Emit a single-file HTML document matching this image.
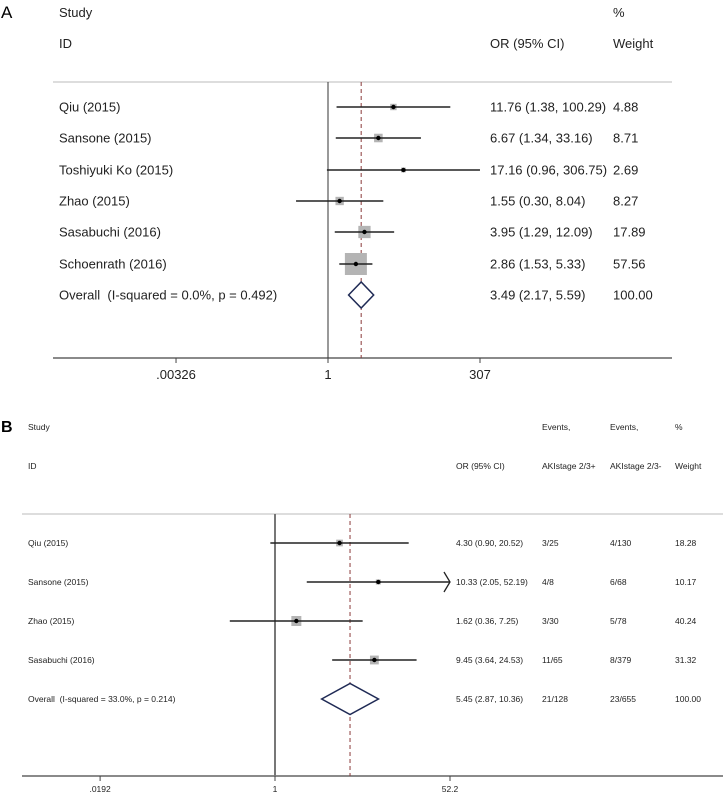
<!DOCTYPE html>
<html><head><meta charset="utf-8"><style>
html,body{margin:0;padding:0;background:#fff}
svg{display:block;font-family:"Liberation Sans",Arial,sans-serif}
svg text{white-space:pre}
</style></head><body>
<svg id="chart" width="723" height="795" viewBox="0 0 723 795" xmlns="http://www.w3.org/2000/svg">
<g id="panelA">
<text x="1" y="18" font-size="17">A</text>
<text x="59" y="17" font-size="13" fill="#222">Study</text>
<text x="59" y="48" font-size="13" fill="#222">ID</text>
<text x="490" y="48" font-size="13" fill="#222">OR (95% CI)</text>
<text x="613" y="17" font-size="13" fill="#222">%</text>
<text x="613" y="48" font-size="13" fill="#222">Weight</text>
<line x1="53" y1="82" x2="672" y2="82" stroke="#bbb"/>
<line x1="53" y1="358" x2="672" y2="358" stroke="#444" stroke-width="1.2"/>
</g>
<g id="panelB">
<text x="1" y="432" font-size="16" font-weight="bold">B</text>
<text x="28" y="430" font-size="8.5" fill="#222">Study</text>
<text x="28" y="469" font-size="8.5" fill="#222">ID</text>
<text x="456" y="469" font-size="8.5" fill="#222">OR (95% CI)</text>
<text x="542" y="430" font-size="8.5" fill="#222">Events,</text>
<text x="542" y="469" font-size="8.5" fill="#222">AKIstage 2/3+</text>
<text x="610" y="430" font-size="8.5" fill="#222">Events,</text>
<text x="610" y="469" font-size="8.5" fill="#222">AKIstage 2/3-</text>
<text x="675" y="430" font-size="8.5" fill="#222">%</text>
<text x="675" y="469" font-size="8.5" fill="#222">Weight</text>
<line x1="22" y1="514" x2="723" y2="514" stroke="#bbb"/>
<line x1="22" y1="776" x2="723" y2="776" stroke="#444" stroke-width="1.2"/>
</g>
</svg>
<script>
const aStudies=["Qiu (2015)","Sansone (2015)","Toshiyuki Ko (2015)","Zhao (2015)","Sasabuchi (2016)","Schoenrath (2016)"];
const aOR=[11.76,6.67,17.16,1.55,3.95,2.86];
const aLo=[1.38,1.34,0.96,0.30,1.29,1.53];
const aHi=[100.29,33.16,306.75,8.04,12.09,5.33];
const aWeight=["4.88","8.71","2.69","8.27","17.89","57.56"];
const aOverall=[3.49,2.17,5.59];
const aOverallLabel="Overall  (I-squared = 0.0%, p = 0.492)";
const aTicks=[0.00326,1,307];
const aTickLabels=[".00326","1","307"];

const bStudies=["Qiu (2015)","Sansone (2015)","Zhao (2015)","Sasabuchi (2016)"];
const bOR=[4.30,10.33,1.62,9.45];
const bLo=[0.90,2.05,0.36,3.64];
const bHi=[20.52,52.19,7.25,24.53];
const bEv1=["3/25","4/8","3/30","11/65"];
const bEv2=["4/130","6/68","5/78","8/379"];
const bWeight=["18.28","10.17","40.24","31.32"];
const bOverall=[5.45,2.87,10.36];
const bOverallEv=["21/128","23/655"];
const bOverallLabel="Overall  (I-squared = 33.0%, p = 0.214)";
const bTicks=[0.0192,1,52.2];
const bTickLabels=[".0192","1","52.2"];

const NS="http://www.w3.org/2000/svg";
function mk(parent,tag,attrs,txt){const e=document.createElementNS(NS,tag);for(const k in attrs)e.setAttribute(k,attrs[k]);if(txt!==undefined)e.textContent=txt;parent.appendChild(e);return e;}
function fmt(v){return v.toFixed(2);}

function drawPanel(g,cfg){
  const sx=v=>cfg.x0+Math.log10(v)*cfg.pxDec;
  const fs=cfg.fs;
  let e=mk(g,'line',{x1:sx(1),y1:cfg.top,x2:sx(1),y2:cfg.axisY,stroke:cfg.nullColor,'stroke-width':cfg.nullW});
  
  
  e=mk(g,'line',{x1:sx(cfg.overall[0]),y1:cfg.top,x2:sx(cfg.overall[0]),y2:cfg.axisY,stroke:'#8b3a3a','stroke-width':1,'stroke-dasharray':'4,3'});
  
  
  const wmax=Math.max(...cfg.weight.map(Number));
  cfg.studies.forEach((s,i)=>{
    const y=cfg.rows[i];
    const row=mk(g,'g',{});
    
    
    let t=mk(row,'text',{x:cfg.labelX,y:y+fs*0.36,'font-size':fs,fill:'#222'},s);
    
    
    const side=cfg.maxBox*Math.sqrt(Number(cfg.weight[i])/wmax);
    let b=mk(row,'rect',{x:sx(cfg.or[i])-side/2,y:y-side/2,width:side,height:side,fill:'#b4b4b4'});
    
    
    const hiClip=Math.min(cfg.hi[i],cfg.clipHi);
    let l=mk(row,'line',{x1:sx(cfg.lo[i]),y1:y,x2:sx(hiClip),y2:y,stroke:'#222','stroke-width':1.5});
    
    
    if(cfg.hi[i]>=cfg.clipHi){
      const ax=sx(hiClip);
      let a=mk(row,'polyline',{points:`${ax-6},${y-10} ${ax},${y} ${ax-6},${y+10}`,fill:'none',stroke:'#222','stroke-width':1.3});
      
      
    }
    let d=mk(row,'circle',{cx:sx(cfg.or[i]),cy:y,r:2.2,fill:'#000'});
    
    
    t=mk(row,'text',{x:cfg.orX,y:y+fs*0.36,'font-size':fs,fill:'#222'},`${fmt(cfg.or[i])} (${fmt(cfg.lo[i])}, ${fmt(cfg.hi[i])})`);
    
    
    if(cfg.ev1){
      t=mk(row,'text',{x:cfg.ev1X,y:y+fs*0.36,'font-size':fs,fill:'#222'},cfg.ev1[i]);
      
      
      t=mk(row,'text',{x:cfg.ev2X,y:y+fs*0.36,'font-size':fs,fill:'#222'},cfg.ev2[i]);
      
      
    }
    t=mk(row,'text',{x:cfg.wX,y:y+fs*0.36,'font-size':fs,fill:'#222'},cfg.weight[i]);
    
    
  });
  const oy=cfg.rows[cfg.studies.length];
  let t=mk(g,'text',{x:cfg.labelX,y:oy+fs*0.36,'font-size':fs,fill:'#222'},cfg.overallLabel);
  
  
  const [m,lo,hi]=cfg.overall;
  let dm=mk(g,'polygon',{points:`${sx(lo)},${oy} ${sx(m)},${oy-cfg.dh} ${sx(hi)},${oy} ${sx(m)},${oy+cfg.dh}`,fill:'#fff',stroke:'#1f2a55','stroke-width':1.5});
  
  
  t=mk(g,'text',{x:cfg.orX,y:oy+fs*0.36,'font-size':fs,fill:'#222'},`${fmt(m)} (${fmt(lo)}, ${fmt(hi)})`);
  
  
  if(cfg.overallEv){
    t=mk(g,'text',{x:cfg.ev1X,y:oy+fs*0.36,'font-size':fs,fill:'#222'},cfg.overallEv[0]);
    
    
    t=mk(g,'text',{x:cfg.ev2X,y:oy+fs*0.36,'font-size':fs,fill:'#222'},cfg.overallEv[1]);
    
    
  }
  t=mk(g,'text',{x:cfg.wX,y:oy+fs*0.36,'font-size':fs,fill:'#222'},'100.00');
  
  
  cfg.ticks.forEach((v,i)=>{
    let tk=mk(g,'line',{x1:sx(v),y1:cfg.axisY,x2:sx(v),y2:cfg.axisY+5,stroke:'#444'});
    
    
    let tl=mk(g,'text',{x:sx(v),y:cfg.tickY,'font-size':cfg.tickFs,'text-anchor':'middle',fill:'#222'},cfg.tickLabels[i]);
    
    
  });
}

drawPanel(document.getElementById('panelA'),{
  x0:328,pxDec:152/Math.log10(307),top:82,axisY:358,rows:[107,138,170,201,232,264,295],
  studies:aStudies,or:aOR,lo:aLo,hi:aHi,weight:aWeight,overall:aOverall,overallLabel:aOverallLabel,
  ticks:aTicks,tickLabels:aTickLabels,fs:13,tickFs:13,tickY:379,labelX:59,orX:490,wX:613,
  maxBox:22,dh:13,clipHi:1e9,nullColor:'#333',nullW:1
});
drawPanel(document.getElementById('panelB'),{
  x0:275,pxDec:175/Math.log10(52.2),top:514,axisY:776,rows:[543,582,621,660,699],
  studies:bStudies,or:bOR,lo:bLo,hi:bHi,weight:bWeight,ev1:bEv1,ev2:bEv2,overall:bOverall,overallEv:bOverallEv,overallLabel:bOverallLabel,
  ticks:bTicks,tickLabels:bTickLabels,fs:8.5,tickFs:8.5,tickY:792,labelX:28,orX:456,ev1X:542,ev2X:610,wX:675,
  maxBox:10,dh:15.5,clipHi:52.19,nullColor:'#777',nullW:2
});
</script>
</body></html>
